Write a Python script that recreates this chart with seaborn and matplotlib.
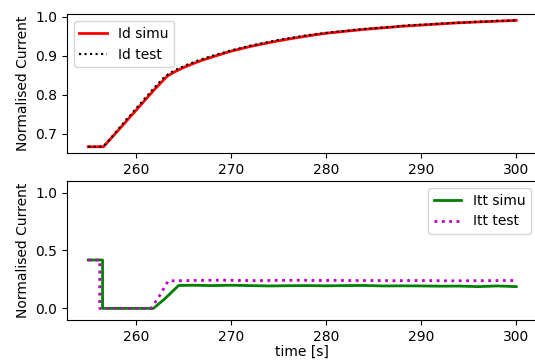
import numpy as np
import pandas as pd
import matplotlib
matplotlib.use("Agg")
import matplotlib.pyplot as plt
import seaborn as sns

# ---------------- data ----------------
# Id (top panel)
t_id_simu = [255.0, 256.0, 256.6, 258.0, 260.0, 262.0, 263.3, 264.0, 265.0, 266.0,
             267.0, 268.0, 270.0, 272.0, 274.0, 276.0, 278.0, 280.0, 282.0, 284.0,
             286.0, 288.0, 290.0, 292.0, 294.0, 296.0, 298.0, 300.0]
id_simu = [0.667, 0.667, 0.667, 0.705, 0.760, 0.815, 0.848, 0.858, 0.870, 0.880,
           0.889, 0.897, 0.912, 0.924, 0.934, 0.943, 0.951, 0.958, 0.963, 0.968,
           0.972, 0.976, 0.979, 0.982, 0.985, 0.987, 0.989, 0.991]

t_id_test = [255.0, 255.5, 256.0, 256.6, 257.0, 257.5, 258.0, 258.5, 259.0, 259.5,
             260.0, 260.5, 261.0, 261.5, 262.0, 262.5, 263.0, 263.5, 264.0, 264.5,
             265.0, 265.5, 266.0, 266.5, 267.0, 267.5, 268.0, 269.0, 270.0, 271.0,
             272.0, 273.0, 274.0, 275.0, 276.0, 277.0, 278.0, 279.0, 280.0, 281.0,
             282.0, 283.0, 284.0, 285.0, 286.0, 287.0, 288.0, 289.0, 290.0, 291.0,
             292.0, 293.0, 294.0, 295.0, 296.0, 297.0, 298.0, 299.0, 300.0]
id_test = [0.667, 0.667, 0.667, 0.668, 0.679, 0.693, 0.708, 0.722, 0.737, 0.750,
           0.765, 0.778, 0.793, 0.806, 0.820, 0.833, 0.846, 0.855, 0.862, 0.868,
           0.873, 0.879, 0.883, 0.888, 0.892, 0.896, 0.900, 0.907, 0.914, 0.920,
           0.926, 0.931, 0.936, 0.941, 0.945, 0.949, 0.953, 0.956, 0.959, 0.962,
           0.964, 0.967, 0.969, 0.971, 0.973, 0.974, 0.977, 0.979, 0.980, 0.981,
           0.983, 0.984, 0.985, 0.986, 0.988, 0.988, 0.990, 0.990, 0.991]

# Itt (bottom panel)
t_itt_simu = [255.0, 256.5, 256.5, 258.0, 260.0, 261.85, 263.0, 264.5, 266.0, 268.0,
              270.0, 272.0, 274.0, 276.0, 278.0, 280.0, 282.0, 284.0, 286.0, 288.0,
              290.0, 292.0, 294.0, 296.0, 298.0, 300.0]
itt_simu = [0.418, 0.418, 0.0, 0.0, 0.0, 0.0, 0.08, 0.198, 0.200, 0.197,
            0.200, 0.197, 0.194, 0.196, 0.197, 0.195, 0.197, 0.198, 0.194, 0.195,
            0.194, 0.192, 0.193, 0.188, 0.194, 0.188]

t_itt_test = [255.0, 256.2, 256.2, 258.0, 260.0, 261.6, 262.5, 263.4, 265.0, 267.0,
              269.0, 271.0, 273.0, 275.0, 277.0, 279.0, 281.0, 283.0, 285.0, 287.0,
              289.0, 291.0, 293.0, 295.0, 297.0, 299.0, 300.0]
itt_test = [0.418, 0.418, 0.0, 0.0, 0.0, 0.0, 0.11, 0.238, 0.240, 0.242,
            0.244, 0.241, 0.240, 0.242, 0.243, 0.241, 0.242, 0.240, 0.241, 0.239,
            0.241, 0.240, 0.238, 0.239, 0.240, 0.241, 0.240]

# ---------------- plot ----------------
plt.rcParams['font.family'] = ['DejaVu Sans']
plt.rcParams['font.size'] = 10

fig = plt.figure(figsize=(5.35, 3.61), dpi=100)
ax1 = fig.add_axes([0.125, 0.576, 0.88, 0.385])
ax2 = fig.add_axes([0.125, 0.1136, 0.88, 0.385])

line_kw = dict(estimator=None, sort=False)

sns.lineplot(x=t_id_simu, y=id_simu, ax=ax1, color='red', lw=2, label='Id simu', **line_kw)
sns.lineplot(x=t_id_test, y=id_test, ax=ax1, color='black', lw=1.5, ls=':',
             label='Id test', **line_kw)
ax1.set_xlim(252.75, 302.25)
ax1.set_yticks([0.7, 0.8, 0.9, 1.0])
ax1.set_ylabel('Normalised Current')
ax1.legend(loc='upper left')

sns.lineplot(x=t_itt_simu, y=itt_simu, ax=ax2, color='green', lw=2, label='Itt simu',
             **line_kw)
sns.lineplot(x=t_itt_test, y=itt_test, ax=ax2, color='m', lw=2, ls=':', label='Itt test',
             **line_kw)
ax2.set_xlim(252.75, 302.25)
ax2.set_ylim(-0.1, 1.1)
ax2.set_yticks([0.0, 0.5, 1.0])
ax2.set_ylabel('Normalised Current')
ax2.set_xlabel('time [s]', labelpad=1)
ax2.legend(loc='upper right')

for ax in (ax1, ax2):
    ax.set_xticks([260, 270, 280, 290, 300])

fig.savefig('out.png', dpi=100)
